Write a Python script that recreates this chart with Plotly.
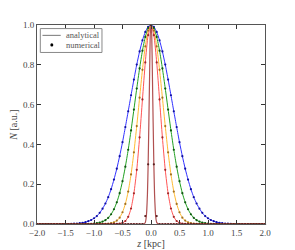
import plotly.graph_objects as go

# ---- data (half profiles, z >= 0; curves are symmetric) ----
z_half = [round(0.05 * i, 2) for i in range(41)]

blue_half = [1.0, 0.991, 0.965, 0.923, 0.867, 0.801, 0.726, 0.647, 0.566, 0.487,
             0.411, 0.341, 0.278, 0.223, 0.175, 0.135, 0.103, 0.077, 0.056, 0.040,
             0.029, 0.020, 0.014, 0.009, 0.006, 0.004, 0.002, 0.0015, 0.001, 0,
             0, 0, 0, 0, 0, 0, 0, 0, 0, 0, 0]
green_half = [1.0, 0.985, 0.940, 0.871, 0.782, 0.681, 0.575, 0.470, 0.373, 0.288,
              0.215, 0.155, 0.109, 0.074, 0.049, 0.031, 0.019, 0.012, 0.007, 0.004,
              0.002, 0.001, 0, 0, 0, 0, 0, 0, 0, 0,
              0, 0, 0, 0, 0, 0, 0, 0, 0, 0, 0]
yellow_half = [1.0, 0.972, 0.893, 0.775, 0.635, 0.492, 0.360, 0.249, 0.163, 0.101,
               0.059, 0.032, 0.017, 0.008, 0.004, 0.002, 0.001, 0, 0, 0,
               0, 0, 0, 0, 0, 0, 0, 0, 0, 0,
               0, 0, 0, 0, 0, 0, 0, 0, 0, 0, 0]
red_half = [1.0, 0.949, 0.812, 0.626, 0.435, 0.272, 0.154, 0.078, 0.036, 0.015,
            0.006, 0.002, 0.001, 0, 0, 0, 0, 0, 0, 0,
            0, 0, 0, 0, 0, 0, 0, 0, 0, 0,
            0, 0, 0, 0, 0, 0, 0, 0, 0, 0, 0]
brown_half = [1.0, 0.30, 0.04, 0, 0, 0, 0, 0, 0, 0,
              0, 0, 0, 0, 0, 0, 0, 0, 0, 0,
              0, 0, 0, 0, 0, 0, 0, 0, 0, 0,
              0, 0, 0, 0, 0, 0, 0, 0, 0, 0, 0]

# finer analytical profile for the narrow (brown) curve
z_brown_line_half = [0, 0.0125, 0.025, 0.0375, 0.05, 0.0625, 0.075, 0.0875, 0.1, 0.125, 0.15, 2.0]
brown_line_half = [1.0, 0.955, 0.74, 0.51, 0.30, 0.15, 0.066, 0.025, 0.008, 0.001, 0, 0]

x_ticks = [-2.0, -1.5, -1.0, -0.5, 0.0, 0.5, 1.0, 1.5, 2.0]
y_ticks = [0.0, 0.2, 0.4, 0.6, 0.8, 1.0]
legend_labels = ["analytical", "numerical"]

FONT = "Liberation Serif"


def mirror_z(zh):
    return [-z for z in reversed(zh[1:])] + list(zh)


def mirror_v(vh):
    return list(reversed(vh[1:])) + list(vh)


series = [
    ("blue", blue_half, "#3030ff", "#1010a0"),
    ("green", green_half, "#20a020", "#105810"),
    ("yellow", yellow_half, "#ffbb33", "#a07020"),
    ("red", red_half, "#ff5555", "#a02828"),
]

fig = go.Figure()
zf = mirror_z(z_half)
for name, vals, lc, dc in series:
    fig.add_trace(go.Scatter(x=zf, y=mirror_v(vals), mode="lines",
                             line=dict(color=lc, width=1, shape="spline", smoothing=0.6),
                             showlegend=False, hoverinfo="skip"))
fig.add_trace(go.Scatter(x=mirror_z(z_brown_line_half), y=mirror_v(brown_line_half),
                         mode="lines", line=dict(color="#b05050", width=1.2, shape="spline", smoothing=0.5),
                         showlegend=False))
for name, vals, lc, dc in series + [("brown", brown_half, "#b05050", "#5a2020")]:
    fig.add_trace(go.Scatter(x=zf, y=mirror_v(vals), mode="markers",
                             marker=dict(color=dc, size=2.2),
                             showlegend=False, cliponaxis=False))

axis_common = dict(showgrid=False, zeroline=False, showline=True, linecolor="#555555",
                   linewidth=1, mirror="ticks", ticks="inside", ticklen=4, automargin=False,
                   tickcolor="#333333", tickfont=dict(family=FONT, size=9, color="#444444"))

fig.update_xaxes(range=[-2, 2], tickvals=x_ticks, tickformat=".1f",
                 title=dict(text="<i>z</i> [kpc]", font=dict(family=FONT, size=10, color="#444444"),
                            standoff=2),
                 **axis_common)
fig.update_yaxes(range=[0, 1], tickvals=y_ticks, tickformat=".1f",
                 title=dict(text="<i>N</i> [a.u.]", font=dict(family=FONT, size=10, color="#444444"),
                            standoff=6),
                 **axis_common)

# compact hand-built legend box (matplotlib-like)
shapes = [
    dict(type="rect", xref="paper", yref="paper", x0=0.0145, x1=0.285, y0=0.862, y1=0.982,
         line=dict(color="#888888", width=1), fillcolor="white", layer="above"),
    dict(type="line", xref="paper", yref="paper", x0=0.024, x1=0.104, y0=0.948, y1=0.948,
         line=dict(color="#777777", width=1), layer="above"),
    dict(type="circle", xref="paper", yref="paper", x0=0.0585, x1=0.0715, y0=0.892, y1=0.908,
         line=dict(color="black", width=0), fillcolor="black", layer="above"),
]
annotations = [
    dict(xref="paper", yref="paper", x=0.12, y=0.948, text=legend_labels[0], showarrow=False,
         xanchor="left", yanchor="middle", font=dict(family=FONT, size=8.5, color="#555555")),
    dict(xref="paper", yref="paper", x=0.12, y=0.900, text=legend_labels[1], showarrow=False,
         xanchor="left", yanchor="middle", font=dict(family=FONT, size=8.5, color="#555555")),
]

# the page adds an 8px body margin, so the figure is sized/offset to compensate
fig.update_layout(
    width=287, height=242,
    margin=dict(l=29, r=30, t=17, b=26),
    paper_bgcolor="white", plot_bgcolor="white",
    showlegend=False, shapes=shapes, annotations=annotations,
)

fig.write_html("out.html")
